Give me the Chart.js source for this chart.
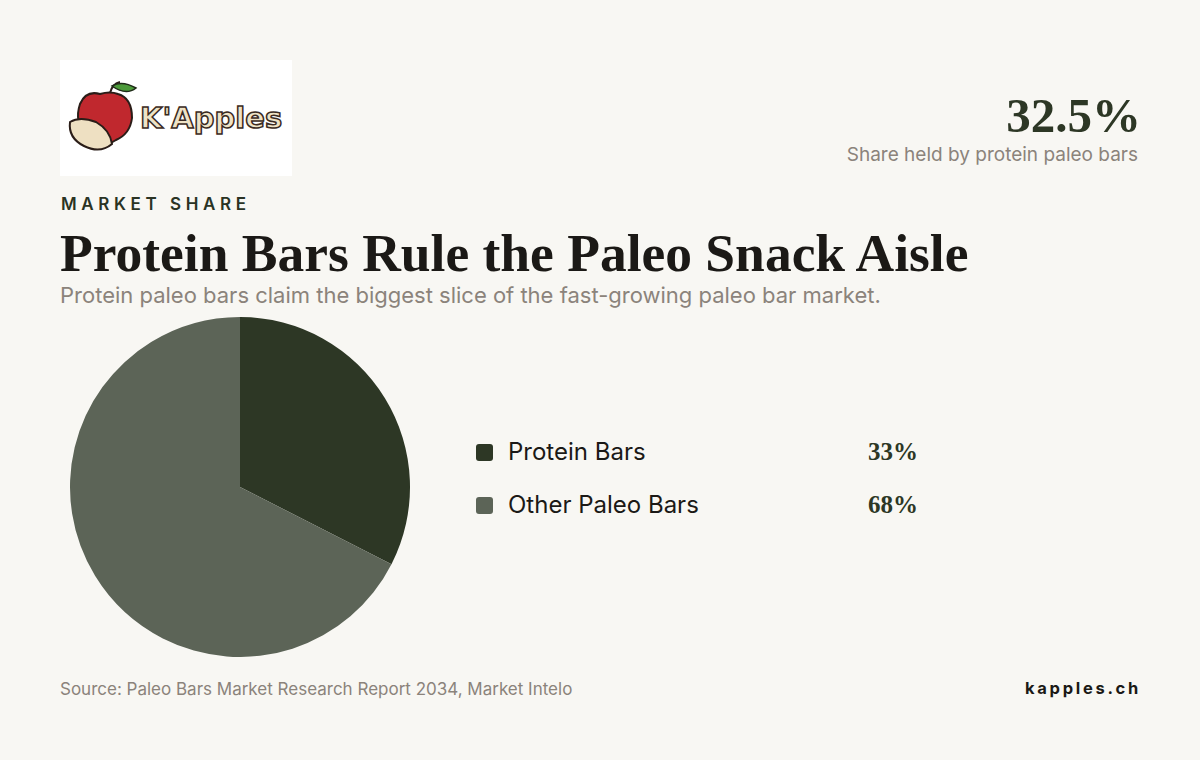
<!DOCTYPE html>
<html>
<head>
<meta charset="utf-8">
<script src="https://cdn.jsdelivr.net/npm/chart.js@4"></script>
<style>
  body{margin:0;background:#f8f7f3;width:1200px;height:760px;position:relative;overflow:hidden;font-family:Inter,"Noto Sans",sans-serif}
  .logo{position:absolute;left:60px;top:60px;width:232px;height:116px;background:#fff}
  .kicker{position:absolute;left:61px;top:194px;font-size:17px;font-weight:600;letter-spacing:4.6px;color:#2a3324}
  h1{position:absolute;left:60px;top:222px;margin:0;font-family:"Liberation Serif","DejaVu Serif",serif;font-weight:700;font-size:53.5px;color:#1b1916}
  .sub{position:absolute;left:60px;top:282px;font-size:22px;color:#8b837b}
  .big{position:absolute;right:59px;top:87px;font-family:"Liberation Serif",serif;font-weight:700;font-size:49px;color:#2d3725}
  .bigsub{position:absolute;right:62px;top:143px;font-size:19px;color:#8b837b}
  #wrap{position:absolute;left:70px;top:317px;width:340px;height:340px}
  .legend{position:absolute;left:476px;top:437px}
  .row{position:relative;height:53px;width:460px}
  .sw{position:absolute;left:0;top:7px;width:17px;height:17px;border-radius:3px}
  .lab{position:absolute;left:32px;top:0;font-size:24px;color:#1b1916}
  .pct{position:absolute;left:392px;top:1px;font-family:"Liberation Serif",serif;font-weight:700;font-size:25px;color:#2d3725}
  .src{position:absolute;left:60px;top:679px;font-size:17px;color:#8b837b}
  .site{position:absolute;right:59px;top:678px;font-size:16.5px;font-weight:700;letter-spacing:2.7px;color:#1b1916}
</style>
</head>
<body>
<div class="logo">
  <svg width="232" height="116" viewBox="0 0 232 116">
    <path d="M50 33 Q52 24 60 22" stroke="#2a1d18" stroke-width="2" fill="none"/>
    <path d="M52 26 Q62 20 76 28 Q66 36 52 26Z" fill="#4c9a3a" stroke="#1f2a18" stroke-width="1.5"/>
    <path d="M40 34 Q26 30 20 44 Q14 62 26 76 Q40 90 56 80 Q70 74 72 58 Q72 38 58 34 Q50 31 40 34Z" fill="#c0282e" stroke="#2a1d18" stroke-width="2"/>
    <path d="M10 62 Q20 56 36 62 Q50 70 52 84 Q40 94 24 86 Q8 78 10 62Z" fill="#eee0c2" stroke="#2a1d18" stroke-width="2"/>
    <text x="80" y="68" font-family="DejaVu Sans" font-weight="700" font-size="29" fill="#efe3c6" stroke="#3a2a22" stroke-width="1.5">K'Apples</text>
  </svg>
</div>
<div class="big">32.5%</div>
<div class="bigsub">Share held by protein paleo bars</div>
<div class="kicker">MARKET SHARE</div>
<h1>Protein Bars Rule the Paleo Snack Aisle</h1>
<div class="sub">Protein paleo bars claim the biggest slice of the fast-growing paleo bar market.</div>
<div id="wrap"><canvas id="canvas"></canvas></div>
<div class="legend" id="legend"></div>
<div class="src">Source: Paleo Bars Market Research Report 2034, Market Intelo</div>
<div class="site">kapples.ch</div>
<script>
const categories = ['Protein Bars', 'Other Paleo Bars']
const shares = [32.5, 67.5]
const colors = ['#2d3725', '#5c6457']

const legend = document.getElementById('legend')
for (let i = 0; i < categories.length; i++) {
  const row = document.createElement('div')
  row.className = 'row'
  row.innerHTML = '<span class="sw" style="background:' + colors[i] + '"></span>' +
    '<span class="lab">' + categories[i] + '</span>' +
    '<span class="pct">' + Math.round(shares[i] + 0.01) + '%</span>'
  legend.appendChild(row)
}

const ctx = document.getElementById('canvas')
new Chart(ctx, {
  type: 'pie',
  data: {
    labels: categories,
    datasets: [{
      data: shares,
      backgroundColor: colors,
      borderWidth: 0
    }]
  },
  options: {
    responsive: true,
    maintainAspectRatio: false,
    animation: false,
    layout: { padding: 0 },
    plugins: {
      legend: { display: false },
      tooltip: { enabled: false }
    }
  }
})
</script>
</body>
</html>
